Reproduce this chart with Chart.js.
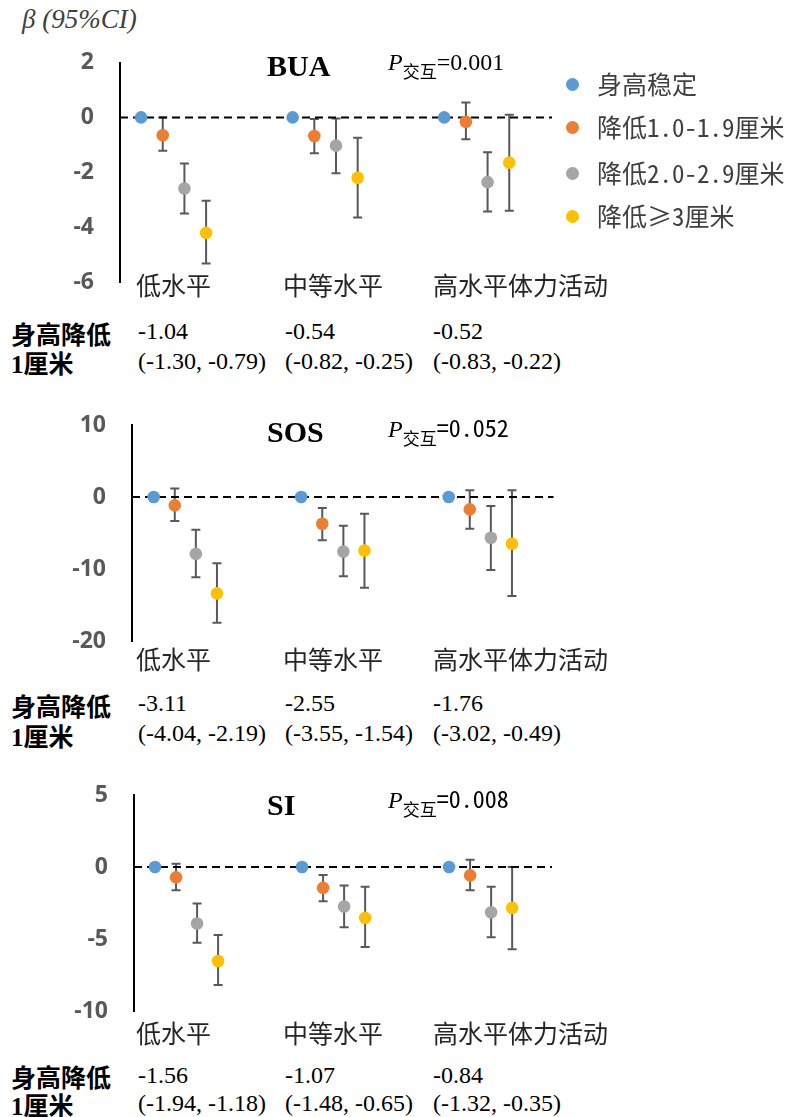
<!DOCTYPE html>
<html>
<head>
<meta charset="utf-8">
<script src="https://cdn.jsdelivr.net/npm/chart.js@4.4.0/dist/chart.umd.min.js"></script>
<style>
  html, body { margin: 0; padding: 0; background: #fff; }
  #page { position: relative; width: 787px; height: 1117px; overflow: hidden; }
  .panel { position: absolute; left: 0; }
  .panel canvas { display: block; }
  .t { position: absolute; white-space: nowrap; }
  .serif { font-family: "Liberation Serif", "Times New Roman", serif; }
  .mono { font-family: "Noto Sans Mono CJK SC", "Noto Sans CJK SC", monospace; }
  .title { font-family: "Liberation Serif", serif; font-weight: bold; font-size: 30px; line-height: 30px; color: #000; }
  .pint { font-family: "Liberation Serif", serif; font-size: 24px; line-height: 24px; color: #000; }
  .pint i { line-height: 0; }
  .pint .sub { font-family: "Noto Sans CJK SC", sans-serif; font-size: 17px; line-height: 0; position: relative; top: 8px; }
  .pint .val { line-height: 0; }
  .cat { font-family: "Noto Sans CJK SC", sans-serif; font-size: 25px; line-height: 25px; color: #262626; }
  .rowhead { font-family: "Noto Sans CJK SC", sans-serif; font-weight: bold; font-size: 25px; line-height: 25px; color: #000; }
  .rowhead .n { font-family: "Liberation Serif", serif; font-weight: bold; line-height: 0; }
  .num { font-family: "Liberation Serif", serif; font-size: 24px; line-height: 24px; color: #000; }
  .leg { font-family: "Noto Sans Mono CJK SC", "Noto Sans CJK SC", sans-serif; font-size: 25px; line-height: 25px; color: #404040; }
  .dot { position: absolute; width: 13px; height: 13px; border-radius: 50%; }
</style>
</head>
<body>
<div id="page"></div>
<script>
// ---- data ----
const groups = ['低水平', '中等水平', '高水平体力活动'];
const seriesNames = ['身高稳定', '降低1.0-1.9厘米', '降低2.0-2.9厘米', '降低≥3厘米'];
const seriesColors = ['#5B9BD5', '#ED7D31', '#A5A5A5', '#FFC000'];

// BUA: beta and 95% CI per series (rows) and activity level (columns)
const buaBeta  = [[0, 0, 0], [-0.65, -0.68, -0.16], [-2.59, -1.03, -2.36], [-4.21, -2.20, -1.65]];
const buaLower = [[null, null, null], [-1.22, -1.31, -0.80], [-3.50, -2.04, -3.43], [-5.33, -3.65, -3.40]];
const buaUpper = [[null, null, null], [0.00, -0.06, 0.54], [-1.68, -0.04, -1.27], [-3.04, -0.74, 0.10]];
const buaTicks = [2, 0, -2, -4, -6];
const buaPerCm = ['-1.04', '-0.54', '-0.52'];
const buaPerCmCI = ['(-1.30, -0.79)', '(-0.82, -0.25)', '(-0.83, -0.22)'];
const buaP = '0.001';

// SOS
const sosBeta  = [[0, 0, 0], [-1.16, -3.72, -1.72], [-7.90, -7.57, -5.67], [-13.39, -7.43, -6.50]];
const sosLower = [[null, null, null], [-3.35, -6.00, -4.41], [-11.16, -11.00, -10.13], [-17.48, -12.60, -13.76]];
const sosUpper = [[null, null, null], [1.17, -1.53, 0.93], [-4.55, -3.99, -1.25], [-9.20, -2.32, 0.93]];
const sosTicks = [10, 0, -10, -20];
const sosPerCm = ['-3.11', '-2.55', '-1.76'];
const sosPerCmCI = ['(-4.04, -2.19)', '(-3.55, -1.54)', '(-3.02, -0.49)'];
const sosP = '0.052';

// SI
const siBeta  = [[0, 0, 0], [-0.72, -1.45, -0.58], [-3.92, -2.74, -3.14], [-6.53, -3.53, -2.84]];
const siLower = [[null, null, null], [-1.62, -2.37, -1.62], [-5.26, -4.19, -4.87], [-8.19, -5.55, -5.72]];
const siUpper = [[null, null, null], [0.23, -0.55, 0.50], [-2.54, -1.29, -1.38], [-4.73, -1.38, 0.00]];
const siTicks = [5, 0, -5, -10];
const siPerCm = ['-1.56', '-1.07', '-0.84'];
const siPerCmCI = ['(-1.94, -1.18)', '(-1.48, -0.65)', '(-1.32, -0.35)'];
const siP = '0.008';

// ---- layout ----
const SERIES_STEP = 0.143;   // horizontal offset between series inside a group (group spacing = 1)
const panels = [
  { name: 'BUA', beta: buaBeta, lower: buaLower, upper: buaUpper, ticks: buaTicks, perCm: buaPerCm, perCmCI: buaPerCmCI, p: buaP, pMono: false,
    top: 40, axisX: 120, plotTop: 62.5, plotBottom: 282, plotRight: 552, xMin: -0.139, xMax: 2.711,
    titleY: 66, pBase: 70, catY: 284, headY: [333, 362], numBase: [339, 369] },
  { name: 'SOS', beta: sosBeta, lower: sosLower, upper: sosUpper, ticks: sosTicks, perCm: sosPerCm, perCmCI: sosPerCmCI, p: sosP, pMono: true,
    top: 400, axisX: 132, plotTop: 425, plotBottom: 641, plotRight: 554, xMin: -0.147, xMax: 2.712,
    titleY: 431.5, pBase: 437, catY: 658, headY: [705, 735], numBase: [711, 741] },
  { name: 'SI', beta: siBeta, lower: siLower, upper: siUpper, ticks: siTicks, perCm: siPerCm, perCmCI: siPerCmCI, p: siP, pMono: true,
    top: 770, axisX: 134, plotTop: 795, plotBottom: 1011, plotRight: 552, xMin: -0.143, xMax: 2.70,
    titleY: 805, pBase: 808, catY: 1032, headY: [1076, 1104], numBase: [1083, 1111] }
];
const CANVAS_W = 560, CANVAS_H = 260;
const CAT_X = [136, 283, 433];
const NUM_X = [138, 285, 433];

const page = document.getElementById('page');
function addText(cls, html, left, top) {
  const d = document.createElement('div');
  d.className = 't ' + cls;
  d.innerHTML = html;
  d.style.left = left + 'px';
  d.style.top = top + 'px';
  page.appendChild(d);
  return d;
}

// vertical error bars with caps, drawn under the markers
const errorBars = {
  id: 'errorBars',
  beforeDatasetsDraw(chart, args, opts) {
    const { ctx, scales: { x, y } } = chart;
    const cfg = opts.panel;
    ctx.save();
    ctx.strokeStyle = '#595959';
    ctx.lineWidth = 2;
    for (let s = 0; s < cfg.beta.length; s++) {
      for (let g = 0; g < groups.length; g++) {
        const lo = cfg.lower[s][g], hi = cfg.upper[s][g];
        if (lo === null || hi === null) continue;
        const px = x.getPixelForValue(g + s * SERIES_STEP);
        const y1 = y.getPixelForValue(hi), y2 = y.getPixelForValue(lo);
        ctx.beginPath();
        ctx.moveTo(px, y1); ctx.lineTo(px, y2);
        ctx.moveTo(px - 4.5, y1); ctx.lineTo(px + 4.5, y1);
        ctx.moveTo(px - 4.5, y2); ctx.lineTo(px + 4.5, y2);
        ctx.stroke();
      }
    }
    ctx.restore();
  }
};

function makeConfig(cfg, pad) {
  const datasets = cfg.beta.map((row, s) => ({
    type: 'scatter',
    label: seriesNames[s],
    data: row.map((v, g) => ({ x: g + s * SERIES_STEP, y: v })),
    backgroundColor: seriesColors[s],
    borderWidth: 0,
    pointRadius: 6.3,
    pointHoverRadius: 6.3,
    order: 0
  }));
  // dashed reference line at beta = 0
  datasets.push({
    type: 'line',
    label: 'ref',
    data: [{ x: cfg.xMin, y: 0 }, { x: cfg.xMax, y: 0 }],
    borderColor: '#000',
    borderWidth: 2,
    borderDash: [8, 5],
    pointRadius: 0,
    fill: false,
    order: 10
  });
  const yMin = Math.min(...cfg.ticks), yMax = Math.max(...cfg.ticks);
  return {
    type: 'scatter',
    data: { datasets },
    plugins: [errorBars],
    options: {
      responsive: false,
      maintainAspectRatio: false,
      animation: false,
      devicePixelRatio: 1,
      events: [],
      layout: { padding: Object.assign({}, pad) },
      plugins: { legend: { display: false }, tooltip: { enabled: false }, errorBars: { panel: cfg } },
      scales: {
        x: { type: 'linear', display: false, min: cfg.xMin, max: cfg.xMax },
        y: {
          type: 'linear', min: yMin, max: yMax,
          afterFit: sc => { sc.width = cfg.axisX; },
          // invisible tick marks give the gap between labels and the axis line
          grid: { display: false, drawTicks: true, tickLength: 26, tickColor: 'rgba(0,0,0,0)' },
          border: { display: true, color: '#000', width: 2 },
          ticks: {
            stepSize: cfg.ticks[0] - cfg.ticks[1],
            padding: 0,
            color: '#595959',
            font: { family: '"Open Sans", "Liberation Sans", sans-serif', weight: 'bold', size: 23 }
          }
        }
      }
    }
  };
}

panels.forEach(cfg => {
  const wrap = document.createElement('div');
  wrap.className = 'panel';
  wrap.style.top = cfg.top + 'px';
  wrap.style.width = CANVAS_W + 'px';
  wrap.style.height = CANVAS_H + 'px';
  const cv = document.createElement('canvas');
  cv.width = CANVAS_W; cv.height = CANVAS_H;
  cv.style.width = CANVAS_W + 'px'; cv.style.height = CANVAS_H + 'px';
  wrap.appendChild(cv);
  page.appendChild(wrap);

  // target plot-area edges inside the canvas
  const want = { top: cfg.plotTop - cfg.top, bottom: cfg.plotBottom - cfg.top, right: cfg.plotRight };
  const pad = { left: 0, right: CANVAS_W - want.right, top: want.top, bottom: CANVAS_H - want.bottom };

  let chart = new Chart(cv, makeConfig(cfg, pad));
  for (let k = 0; k < 4; k++) {
    const ca = chart.chartArea;
    const dTop = ca.top - want.top, dBot = want.bottom - ca.bottom, dRight = want.right - ca.right;
    if (Math.abs(dTop) < 0.3 && Math.abs(dBot) < 0.3 && Math.abs(dRight) < 0.3) break;
    pad.top = Math.max(0, pad.top - dTop);
    pad.bottom = Math.max(0, pad.bottom - dBot);
    pad.right = Math.max(0, pad.right - dRight);
    chart.destroy();
    chart = new Chart(cv, makeConfig(cfg, pad));
  }

  // panel title and interaction P value
  addText('title', cfg.name, 267, cfg.titleY - 15);
  const pVal = cfg.pMono ? '<span class="val mono">=' + cfg.p + '</span>' : '<span class="val">=' + cfg.p + '</span>';
  addText('pint', '<i>P</i><span class="sub">交互</span>' + pVal, 388, cfg.pBase - 20);

  // activity level labels
  groups.forEach((g, i) => addText('cat', g, CAT_X[i], cfg.catY - 12.5));

  // effect per 1 cm height loss
  addText('rowhead', '身高降低', 11, cfg.headY[0] - 12.5);
  addText('rowhead', '<span class="n">1</span>厘米', 11, cfg.headY[1] - 12.5);
  cfg.perCm.forEach((v, i) => {
    addText('num', v, NUM_X[i], cfg.numBase[0] - 20);
    addText('num', cfg.perCmCI[i], NUM_X[i], cfg.numBase[1] - 20);
  });
});

// y axis caption
addText('serif', '<i>β (95%CI)</i>', 22, 6).style.cssText += 'font-size:27px;line-height:27px;color:#404040;';

// legend
const legY = [83, 126, 172, 215];
seriesNames.forEach((n, i) => {
  const d = document.createElement('div');
  d.className = 'dot';
  d.style.background = seriesColors[i];
  d.style.left = (572.7 - 6.5) + 'px';
  d.style.top = (legY[i] + 1.5 - 6.5) + 'px';
  page.appendChild(d);
  addText('leg', n, 597, legY[i] - 12.5);
});
</script>
</body>
</html>
